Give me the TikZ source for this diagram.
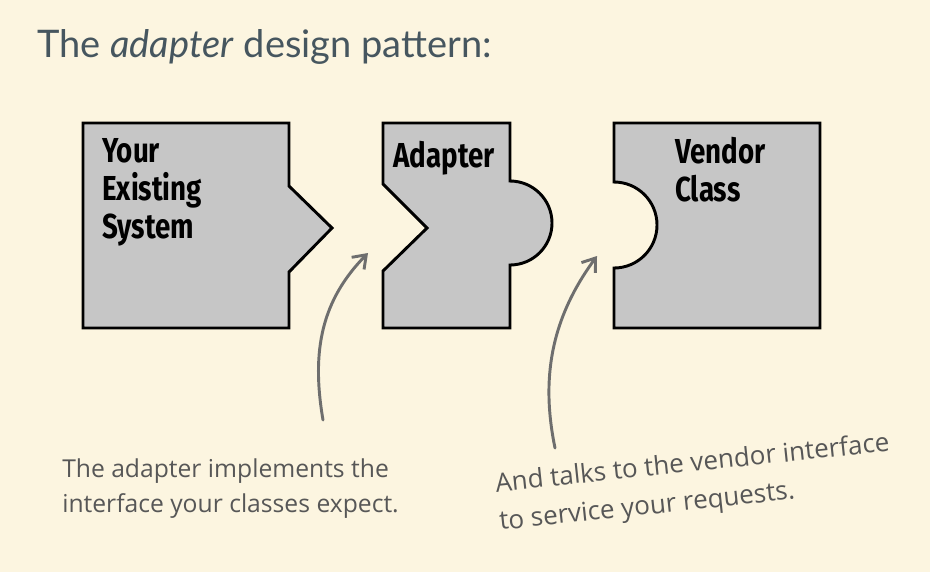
\documentclass[tikz,border=0pt]{standalone}
\usepackage{fontspec}
\setmainfont{Lato}
\newfontfamily\piecefont[FakeStretch=0.8]{Fira Sans}
\newfontfamily\notefont{Open Sans}
\usepackage{tikz}
\usetikzlibrary{arrows.meta,positioning}
\definecolor{paper}{HTML}{FCF5E0}
\definecolor{piecegray}{HTML}{C6C6C6}
\definecolor{titleblue}{HTML}{46565F}
\definecolor{notegray}{HTML}{575757}
\definecolor{arrowgray}{HTML}{6E6E6E}

\begin{document}
\begin{tikzpicture}[x=0.75pt,y=-0.75pt,
    piece/.style={fill=piecegray,draw=black,line width=2.2pt,line join=miter},
    piecelabel/.style={font=\piecefont\bfseries\fontsize{26}{28.5}\selectfont,align=left,anchor=north west,inner sep=0pt},
    note/.style={font=\notefont\fontsize{18.5}{26}\selectfont,text=notegray,align=left,anchor=base west,inner sep=0pt},
    notearrow/.style={draw=arrowgray,line width=2.2pt,line cap=round,line join=round,-{Straight Barb[length=9pt,width=13pt]}}]
  % page
  \fill[paper] (0,0) rectangle (930,572);
  \useasboundingbox (0,0) rectangle (930,572);
  \node[font=\fontsize{28.5}{34}\selectfont,text=titleblue,anchor=base west,inner sep=0pt] (title) at (37,57)
    {The \textit{adapter} design pattern:};

  % the three pieces
  \draw[piece] (83,123) -- (289,123) -- (289,186) -- (332,228) -- (289,272)
    -- (289,328) -- (83,328) -- cycle;
  \draw[piece] (383,123) -- (510,123) -- (510,181) arc[start angle=-90,end angle=90,radius=42]
    -- (510,328) -- (383,328) -- (383,271) -- (427,228) -- (383,184) -- cycle;
  \draw[piece] (614,123) -- (820,123) -- (820,328) -- (614,328) -- (614,268)
    arc[start angle=90,end angle=-90,radius=43] -- cycle;

  \node[piecelabel] (system) at (102,138) {Your\\Existing\\System};
  \node[piecelabel] (adapter) at (393,141) {Adapter};
  \node[piecelabel] (vendor) at (675,137) {Vendor\\Class};

  % notes (anchored at the last line)
  \node[note] (implements) at (62,512) {The adapter implements the\\interface your classes expect.};
  \node[note,rotate=6,font=\notefont\fontsize{19.5}{28.5}\selectfont] (talks) at (500,530)
    {And talks to the vendor interface\\to service your requests.};

  \coordinate (tail1) at (323,420);
  \coordinate (tip1) at (368,253);
  \coordinate (tail2) at (555,448);
  \coordinate (tip2) at (597,256);
  \draw[notearrow] (tail1) .. controls (311,350) and (322,300) .. (tip1);
  \draw[notearrow] (tail2) .. controls (541,380) and (550,320) .. (tip2);
\end{tikzpicture}
\end{document}
